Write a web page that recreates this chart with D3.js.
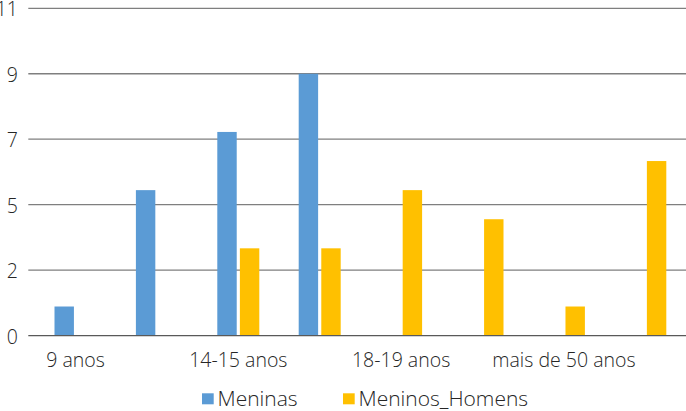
<!DOCTYPE html>
<html><head><meta charset="utf-8">
<script src="https://cdn.jsdelivr.net/npm/d3@7"></script>
<style>html,body{margin:0;padding:0;background:#fff;}svg{display:block;}</style>
</head><body>
<svg id="chart" width="686" height="411"></svg>
<script>
const categories = ["9 anos","10-13 anos","14-15 anos","16-17 anos","18-19 anos","20-49 anos","mais de 50 anos","não informado"];
const seriesNames = ["Meninas","Meninos_Homens"];
const meninas = [1,5,7,9,0,0,0,0];
const meninosHomens = [0,0,3,3,5,4,1,6];
const tickValues = [0,2.25,4.5,6.75,9,11.25];
const tickLabels = ["0","2","5","7","9","11"];
const colors = ["#5B9BD5","#FFC000"];

const svg = d3.select("#chart");
const font = "'Open Sans', Lato, sans-serif";
const fw = 300;
const fs = "19.5px";
const textColor = "#262626";

const y = d3.scaleLinear().domain([0, 11.25]).range([335.6, 8.3]);
const x0 = d3.scaleBand().domain(categories).range([34.8, 686]).padding(0);
const x1 = d3.scaleBand().domain(seriesNames).range([0, 42]).paddingInner(0.14);
const values = [meninas, meninosHomens];

const yAxis = d3.axisLeft(y).tickValues(tickValues).tickSize(0).tickFormat((d,i)=>tickLabels[i]);
const gy = svg.append("g").attr("transform","translate(18,0)").call(yAxis);
gy.select(".domain").remove();
gy.selectAll("text").attr("font-family",font).attr("font-weight",fw).attr("font-size",fs).attr("fill",textColor).attr("dy","0.38em").attr("x",0);

svg.append("g").selectAll("line").data(tickValues.slice(1)).join("line")
  .attr("x1",28.3).attr("x2",686).attr("y1",d=>y(d)).attr("y2",d=>y(d))
  .attr("stroke","#7f7f7f").attr("stroke-width",1.3);

seriesNames.forEach((s,si)=>{
  svg.append("g").selectAll("rect").data(categories).join("rect")
    .attr("x",(c)=>x0(c)+x0.bandwidth()/2-21+x1(s))
    .attr("width",x1.bandwidth())
    .attr("y",(c,i)=>y(values[si][i]))
    .attr("height",(c,i)=>y(0)-y(values[si][i]))
    .attr("fill",colors[si]);
});

svg.append("line").attr("x1",28.3).attr("x2",686).attr("y1",y(0)).attr("y2",y(0))
  .attr("stroke","#595959").attr("stroke-width",1.3);

const xAxis = d3.axisBottom(x0).tickSize(0).tickFormat((d,i)=> i%2===0 ? d : "");
const gx = svg.append("g").attr("transform",`translate(0,${y(0)})`).call(xAxis);
gx.select(".domain").remove();
gx.selectAll("text").attr("font-family",font).attr("font-weight",fw).attr("font-size",fs).attr("fill",textColor).attr("y",31.2).attr("dy","0");

const legendX = [202, 343];
const lg = svg.append("g");
seriesNames.forEach((s,i)=>{
  lg.append("rect").attr("x",legendX[i]).attr("y",393.3).attr("width",11.7).attr("height",11).attr("fill",colors[i]);
  lg.append("text").attr("x",legendX[i]+15.5).attr("y",405.8).text(s)
    .attr("font-family",font).attr("font-weight",fw).attr("font-size","21px").attr("fill",textColor);
});
</script>
</body></html>
